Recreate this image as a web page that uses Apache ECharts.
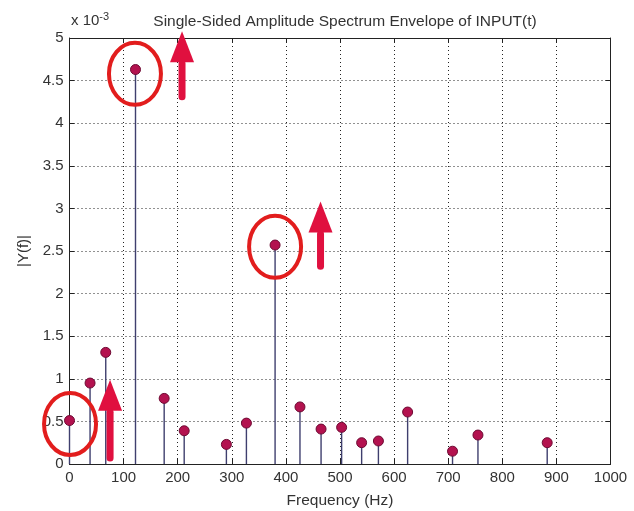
<!DOCTYPE html>
<html>
<head>
<meta charset="utf-8">
<script src="https://cdn.jsdelivr.net/npm/echarts@6/dist/echarts.min.js"></script>
<style>
  html, body { margin: 0; padding: 0; background: #fff; }
  #main { width: 634px; height: 511px; }
</style>
</head>
<body>
<div id="main"></div>
<script>
// stem plot data, amplitudes in units of 1e-3
var freqs = [0, 38, 67, 122, 175, 212, 290, 327, 380, 426, 465, 503, 540, 571, 625, 708, 755, 883];
var amps = [0.51, 0.95, 1.31, 4.63, 0.77, 0.39, 0.23, 0.48, 2.57, 0.67, 0.41, 0.43, 0.25, 0.27, 0.61, 0.15, 0.34, 0.25];

// red annotations drawn over the plot (data coords)
var circleCenters = [[121, 4.58], [380, 2.55], [1, 0.47]];
var arrowTops = [[208, 5.08], [464, 3.08], [75, 0.99]];
var arrowBottoms = [4.27, 2.28, 0.03];

var chart = echarts.init(document.getElementById('main'));

var points = freqs.map(function (f, i) { return [f, amps[i]]; });
var arrows = arrowTops.map(function (a, i) { return [a[0], a[1], arrowBottoms[i]]; });

var font = 'Liberation Sans';
var txt = '#333';

function axisX(pos, show) {
  return {
    type: 'value', position: pos, min: 0, max: 1000, interval: 100,
    axisLine: { show: true, onZero: false, lineStyle: { color: '#222', width: 1 } },
    axisTick: { show: true, inside: true, length: 5, lineStyle: { color: '#222' } },
    axisLabel: { show: show, color: txt, fontFamily: font, fontSize: 15, margin: 6,
      formatter: function (v) { return String(v); } },
    splitLine: { show: show, lineStyle: { color: '#222', type: [1, 3], width: 1 } }
  };
}
function axisY(pos, show) {
  return {
    type: 'value', position: pos, min: 0, max: 5, interval: 0.5,
    axisLine: { show: true, onZero: false, lineStyle: { color: '#222', width: 1 } },
    axisTick: { show: true, inside: true, length: 5, lineStyle: { color: '#222' } },
    axisLabel: { show: show, color: txt, fontFamily: font, fontSize: 15, margin: 6 },
    splitLine: { show: show, lineStyle: { color: '#222', type: [1, 3], width: 1 } }
  };
}

var xa = axisX('bottom', true);
xa.name = 'Frequency (Hz)';
xa.nameLocation = 'middle';
xa.nameGap = 29;
xa.nameTextStyle = { color: txt, fontFamily: font, fontSize: 15.5 };
var ya = axisY('left', true);
ya.name = '|Y(f)|';
ya.nameLocation = 'middle';
ya.nameGap = 38;
ya.nameTextStyle = { color: txt, fontFamily: font, fontSize: 15 };

var option = {
  backgroundColor: '#fff',
  animation: false,
  title: {
    text: 'Single-Sided Amplitude Spectrum Envelope of INPUT(t)',
    left: 340, textAlign: 'center', top: 9,
    textStyle: { color: txt, fontFamily: font, fontSize: 15.5, fontWeight: 'normal' }
  },
  grid: { left: 69.5, right: 23.5, top: 38, bottom: 47, outerBoundsMode: 'none' },
  xAxis: [xa, axisX('top', false)],
  yAxis: [ya, axisY('right', false)],
  graphic: [{
    type: 'text', left: 71, top: 11,
    style: {
      text: 'x 10{s|-3}',
      rich: { s: { fontSize: 11, verticalAlign: 'top', padding: [0, 0, 9, 0], fill: txt, fontFamily: font } },
      fontSize: 15, fontFamily: font, fill: txt
    }
  }],
  series: [{
    type: 'custom',
    data: points,
    renderItem: function (params, api) {
      var p0 = api.coord([api.value(0), 0]);
      var p1 = api.coord([api.value(0), api.value(1)]);
      return {
        type: 'line',
        shape: { x1: p0[0], y1: p0[1], x2: p1[0], y2: p1[1] },
        style: { stroke: '#3f3f6e', lineWidth: 1.4 }
      };
    },
    z: 2
  }, {
    type: 'scatter',
    data: points,
    symbol: 'circle',
    symbolSize: 10,
    itemStyle: { color: '#b3124f', borderColor: '#6e0a33', borderWidth: 1, opacity: 1 },
    z: 3
  }, {
    type: 'custom',
    data: circleCenters,
    clip: false,
    renderItem: function (params, api) {
      var c = api.coord([api.value(0), api.value(1)]);
      return {
        type: 'ellipse',
        shape: { cx: c[0], cy: c[1], rx: 26, ry: 31 },
        style: { fill: 'none', stroke: '#e21d1d', lineWidth: 4 }
      };
    },
    z: 4
  }, {
    type: 'custom',
    data: arrows,
    clip: false,
    renderItem: function (params, api) {
      var top = api.coord([api.value(0), api.value(1)]);
      var bot = api.coord([api.value(0), api.value(2)]);
      var x = top[0];
      var headH = 31, headW = 12;
      return {
        type: 'group',
        children: [{
          type: 'polygon',
          shape: { points: [[x, top[1]], [x + headW, top[1] + headH], [x - headW, top[1] + headH]] },
          style: { fill: '#e0103f' }
        }, {
          type: 'rect',
          shape: { x: x - 3.5, y: top[1] + headH - 2, width: 7, height: bot[1] - top[1] - headH + 2, r: 3.5 },
          style: { fill: '#e0103f' }
        }]
      };
    },
    z: 5
  }]
};

chart.setOption(option);
</script>
</body>
</html>
